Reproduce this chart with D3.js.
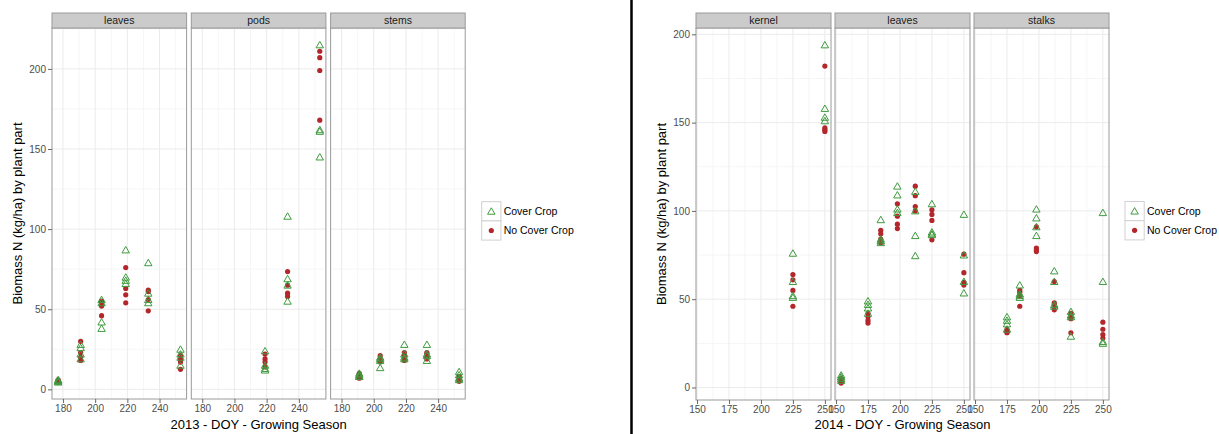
<!DOCTYPE html>
<html><head><meta charset="utf-8">
<script src="https://cdn.jsdelivr.net/npm/d3@7"></script>
<style>
body{margin:0;background:#fff;}
svg{display:block;font-family:"Liberation Sans",Arial,Helvetica,sans-serif;}
</style></head><body>
<svg id="chart" width="1219" height="434"></svg>
<script>
// ---------- data ----------
const seriesNames = ["Cover Crop", "No Cover Crop"];
const yTicks = [0, 50, 100, 150, 200];
const xTicks2013 = [180, 200, 220, 240];
const xTicks2014 = [150, 175, 200, 225, 250];
const parts2013 = ["leaves", "pods", "stems"];
const parts2014 = ["kernel", "leaves", "stalks"];
const yTitle = "Biomass N (kg/ha) by plant part";
const xTitle2013 = "2013 - DOY - Growing Season";
const xTitle2014 = "2014 - DOY - Growing Season";

// 2013
const leaves2013Doy = [177, 191, 204, 219, 233, 253];
const leaves2013Cover = [[5, 6, 4.5, 5.5], [28, 26, 19, 22], [56, 54, 42, 38], [87, 70, 66, 68], [79, 56, 54, 60], [25, 22, 20, 15]];
const leaves2013NoCover = [[4.5, 5.5, 6, 5], [30, 23, 20, 18], [55, 52, 46, 54], [76, 63, 59, 54], [62, 61, 56, 49], [21, 19, 17, 12.5]];
const pods2013Doy = [219, 233, 253];
const pods2013Cover = [[24, 13, 12, 15], [108, 69, 65, 55], [215, 162, 161, 145]];
const pods2013NoCover = [[22, 17, 14, 19], [73.5, 65, 60, 58], [211, 207, 199, 168]];
const stems2013Doy = [191, 204, 219, 233, 253];
const stems2013Cover = [[9, 8, 8, 10], [13.5, 19, 18, 20], [28, 22, 20, 19], [28, 22, 18, 21], [11, 9, 7, 6]];
const stems2013NoCover = [[10, 9, 8, 7], [21, 19, 18, 17], [23, 21, 20, 18], [23, 22, 20, 19], [8, 7, 6, 5]];

// 2014
const kernel2014Doy = [225, 250];
const kernel2014Cover = [[76, 60, 52, 51], [194, 158, 153, 151]];
const kernel2014NoCover = [[64, 61, 55, 46], [182, 146, 145, 147]];
const leaves2014Doy = [154, 175, 185, 198, 212, 225, 250];
const leaves2014Cover = [[7, 6, 5, 4], [49, 47, 45, 42], [95, 82, 84, 83], [114, 109, 101, 99], [111, 100, 86, 74.6], [104, 88, 86.5, 87], [98, 75, 60, 53.5]];
const leaves2014NoCover = [[5, 4, 3, 2.5], [42, 40, 38, 36.5], [89, 87, 84, 82], [104, 97, 92.5, 90], [114, 108.6, 102.5, 100], [100.6, 98, 94.6, 83.6], [75.5, 65, 59.5, 58]];
const stalks2014Doy = [175, 185, 198, 212, 225, 250];
const stalks2014Cover = [[40, 38, 36, 33], [58, 53, 51, 52], [101, 96, 91, 86], [66, 60, 47, 46], [43, 41, 40, 29], [99, 60, 26, 25]];
const stalks2014NoCover = [[33, 31, 32, 31.5], [55, 54, 52, 46], [91, 79, 77, 78], [60, 48, 47, 44], [42, 40, 39, 31], [37, 33, 30, 28]];

// ---------- helpers ----------
function toPoints(doy, cover, noCover) {
  const pts = [];
  doy.forEach((d, i) => {
    cover[i].forEach(v => pts.push({doy: d, value: v, series: seriesNames[0]}));
    noCover[i].forEach(v => pts.push({doy: d, value: v, series: seriesNames[1]}));
  });
  return pts;
}
function expand(ext) { const r = ext[1] - ext[0]; return [ext[0] - r * 0.05, ext[1] + r * 0.05]; }
function minorOf(ticks, dom) {
  const step = ticks[1] - ticks[0];
  const out = [];
  for (let t = ticks[0] - step; t <= ticks[ticks.length - 1] + step; t += step) {
    const m = t + step / 2;
    if (m >= dom[0] && m <= dom[1]) out.push(m);
  }
  return out;
}

const colors = {"Cover Crop": "#3f9b3f", "No Cover Crop": "#b3262b"};
const svg = d3.select("#chart");
const triPath = d3.symbol().type(d3.symbolTriangle).size(24)();

function drawChart(cfg) {
  const all = cfg.panels.flatMap(p => p.points);
  const xDom = expand(d3.extent(all, d => d.doy));
  const yDom = expand(d3.extent(all, d => d.value));
  const y = d3.scaleLinear().domain(yDom).range([cfg.bottom, cfg.top]);
  const g = svg.append("g");

  cfg.panels.forEach((p, i) => {
    const x0 = cfg.x0 + i * cfg.spacing;
    const x = d3.scaleLinear().domain(xDom).range([x0, x0 + cfg.w]);
    const pg = g.append("g");
    // background
    pg.append("rect").attr("x", x0).attr("y", cfg.top).attr("width", cfg.w).attr("height", cfg.bottom - cfg.top).attr("fill", "#fff");
    // minor grid
    minorOf(cfg.xTicks, xDom).forEach(t => pg.append("line").attr("x1", x(t)).attr("x2", x(t)).attr("y1", cfg.top).attr("y2", cfg.bottom).attr("stroke", "#f6f6f6").attr("stroke-width", 1));
    minorOf(yTicks, yDom).forEach(t => pg.append("line").attr("x1", x0).attr("x2", x0 + cfg.w).attr("y1", y(t)).attr("y2", y(t)).attr("stroke", "#f6f6f6").attr("stroke-width", 1));
    // major grid
    cfg.xTicks.forEach(t => pg.append("line").attr("x1", x(t)).attr("x2", x(t)).attr("y1", cfg.top).attr("y2", cfg.bottom).attr("stroke", "#ebebeb").attr("stroke-width", 1));
    yTicks.forEach(t => pg.append("line").attr("x1", x0).attr("x2", x0 + cfg.w).attr("y1", y(t)).attr("y2", y(t)).attr("stroke", "#ebebeb").attr("stroke-width", 1));
    // points: dots first, triangles on top
    pg.selectAll("circle.pt").data(p.points.filter(d => d.series === seriesNames[1])).join("circle")
      .attr("class", "pt").attr("cx", d => x(d.doy)).attr("cy", d => y(d.value)).attr("r", 2.6)
      .attr("fill", d => colors[d.series]);
    pg.selectAll("path.pt").data(p.points.filter(d => d.series === seriesNames[0])).join("path")
      .attr("class", "pt").attr("d", triPath)
      .attr("transform", d => `translate(${x(d.doy)},${y(d.value) + 0.8})`)
      .attr("fill", "none").attr("stroke", d => colors[d.series]).attr("stroke-width", 1);
    // border
    pg.append("rect").attr("x", x0).attr("y", cfg.top).attr("width", cfg.w).attr("height", cfg.bottom - cfg.top)
      .attr("fill", "none").attr("stroke", "#9a9a9a").attr("stroke-width", 1);
    // strip
    pg.append("rect").attr("x", x0).attr("y", cfg.stripTop).attr("width", cfg.w).attr("height", cfg.top - cfg.stripTop)
      .attr("fill", "#cbcbcb").attr("stroke", "#9a9a9a").attr("stroke-width", 1);
    pg.append("text").attr("x", x0 + cfg.w / 2).attr("y", (cfg.stripTop + cfg.top) / 2).attr("dy", "0.35em")
      .attr("text-anchor", "middle").attr("font-size", 10.5).attr("fill", "#1a1a1a").text(p.name);
    // x axis
    const ax = pg.append("g").attr("transform", `translate(0,${cfg.bottom})`)
      .call(d3.axisBottom(x).tickValues(cfg.xTicks).tickSize(4).tickPadding(2).tickFormat(d3.format("d")));
    ax.select(".domain").remove();
    ax.selectAll("line").attr("stroke", "#666");
    ax.selectAll("text").attr("font-size", 10).attr("fill", "#4d4d4d").attr("font-family", null);
  });

  // y axis
  const ay = g.append("g").attr("transform", `translate(${cfg.x0},0)`)
    .call(d3.axisLeft(y).tickValues(yTicks).tickSize(4).tickPadding(2).tickFormat(d3.format("d")));
  ay.select(".domain").remove();
  ay.selectAll("line").attr("stroke", "#666");
  ay.selectAll("text").attr("font-size", 10).attr("fill", "#4d4d4d").attr("font-family", null);

  // titles
  const midY = (cfg.top + cfg.bottom) / 2;
  g.append("text").attr("transform", `translate(${cfg.yTitleX},${midY}) rotate(-90)`).attr("dy", "0.35em")
    .attr("text-anchor", "middle").attr("font-size", 13).attr("fill", "#000").text(yTitle);
  const lastX = cfg.x0 + (cfg.panels.length - 1) * cfg.spacing + cfg.w;
  g.append("text").attr("x", (cfg.x0 + lastX) / 2).attr("y", cfg.xTitleY)
    .attr("text-anchor", "middle").attr("font-size", 13).attr("fill", "#000").text(cfg.xTitle);

  // legend
  const lg = g.append("g").attr("transform", `translate(${cfg.legendX},${cfg.legendY})`);
  seriesNames.forEach((s, i) => {
    const row = lg.append("g").attr("transform", `translate(0,${i * 19.2})`);
    row.append("rect").attr("width", 19.2).attr("height", 19.2).attr("fill", "#fff").attr("stroke", "#d0d0d0").attr("stroke-width", 1);
    if (i === 0) {
      row.append("path").attr("d", triPath).attr("transform", "translate(9.6,10.4)")
        .attr("fill", "none").attr("stroke", colors[s]).attr("stroke-width", 1);
    } else {
      row.append("circle").attr("cx", 9.6).attr("cy", 9.6).attr("r", 2.6).attr("fill", colors[s]);
    }
    row.append("text").attr("x", 22).attr("y", 9.6).attr("dy", "0.35em").attr("font-size", 10.5).attr("fill", "#000").text(s);
  });
}

drawChart({
  panels: [
    {name: parts2013[0], points: toPoints(leaves2013Doy, leaves2013Cover, leaves2013NoCover)},
    {name: parts2013[1], points: toPoints(pods2013Doy, pods2013Cover, pods2013NoCover)},
    {name: parts2013[2], points: toPoints(stems2013Doy, stems2013Cover, stems2013NoCover)}
  ],
  xTicks: xTicks2013, xTitle: xTitle2013,
  x0: 52, w: 134.6, spacing: 139.3, top: 28, bottom: 399, stripTop: 13,
  yTitleX: 17.5, xTitleY: 428.5, legendX: 481.7, legendY: 201.7
});

drawChart({
  panels: [
    {name: parts2014[0], points: toPoints(kernel2014Doy, kernel2014Cover, kernel2014NoCover)},
    {name: parts2014[1], points: toPoints(leaves2014Doy, leaves2014Cover, leaves2014NoCover)},
    {name: parts2014[2], points: toPoints(stalks2014Doy, stalks2014Cover, stalks2014NoCover)}
  ],
  xTicks: xTicks2014, xTitle: xTitle2014,
  x0: 696, w: 135, spacing: 139, top: 28, bottom: 400, stripTop: 13,
  yTitleX: 661.7, xTitleY: 428.5, legendX: 1125, legendY: 201.5
});

// separator line between the two figures
svg.append("line").attr("x1", 631.5).attr("x2", 631.5).attr("y1", 0).attr("y2", 434)
  .attr("stroke", "#000").attr("stroke-width", 2.5);
</script>
</body></html>
